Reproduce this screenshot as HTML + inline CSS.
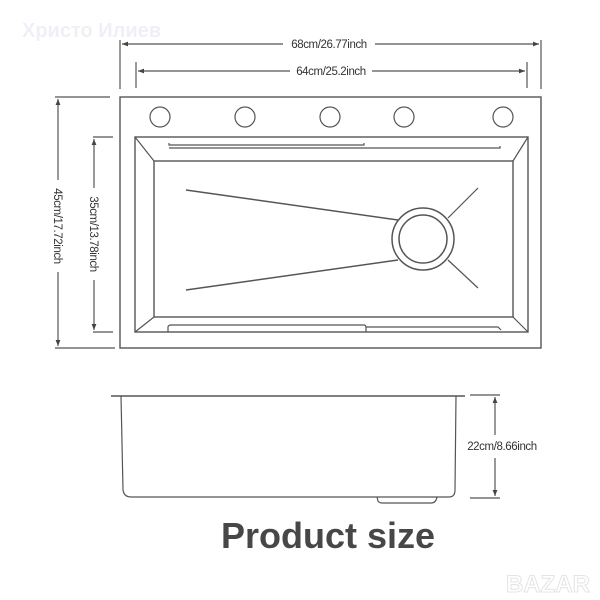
<!DOCTYPE html>
<html><head><meta charset="utf-8"><style>
body{margin:0;background:#fff;}
svg{display:block}
</style></head><body>
<svg width="600" height="600" viewBox="0 0 600 600" xmlns="http://www.w3.org/2000/svg" font-family="Liberation Sans, sans-serif">
<defs>
<marker id="a" viewBox="0 0 10 10" refX="10" refY="5" markerWidth="7" markerHeight="5" orient="auto-start-reverse"><path d="M0,1 L10,5 L0,9 z" fill="#444"/></marker>
</defs>
<text x="22" y="37" font-size="20" font-weight="bold" fill="#eef0f6">Христо Илиев</text>
<g stroke="#555" stroke-width="1.2" fill="none">
<!-- top dims -->
<line x1="120" y1="40" x2="120" y2="89"/>
<line x1="541" y1="40" x2="541" y2="89"/>
<line x1="122" y1="44" x2="283" y2="44" marker-start="url(#a)"/>
<line x1="375" y1="44" x2="539" y2="44" marker-end="url(#a)"/>
<line x1="136" y1="62" x2="136" y2="88"/>
<line x1="527" y1="62" x2="527" y2="88"/>
<line x1="138" y1="71" x2="290" y2="71" marker-start="url(#a)"/>
<line x1="372" y1="71" x2="525" y2="71" marker-end="url(#a)"/>
<!-- left dims -->
<line x1="55" y1="97" x2="110" y2="97"/>
<line x1="55" y1="348" x2="115" y2="348"/>
<line x1="58" y1="99" x2="58" y2="180" marker-start="url(#a)"/>
<line x1="58" y1="272" x2="58" y2="346" marker-end="url(#a)"/>
<line x1="93" y1="137" x2="113" y2="137"/>
<line x1="93" y1="332" x2="113" y2="332"/>
<line x1="94" y1="139" x2="94" y2="188" marker-start="url(#a)"/>
<line x1="94" y1="280" x2="94" y2="330" marker-end="url(#a)"/>
<!-- top view -->
<rect x="120" y="97" width="421" height="251" stroke-width="1.4"/>
<circle cx="160" cy="117" r="10"/>
<circle cx="245" cy="117" r="10"/>
<circle cx="330" cy="117" r="10"/>
<circle cx="404" cy="117" r="10"/>
<circle cx="503" cy="117" r="10"/>
<rect x="135" y="137" width="393" height="195" stroke-width="1.4"/>
<rect x="154" y="161" width="359" height="156" stroke-width="1.4"/>
<line x1="135" y1="137" x2="154" y2="161"/>
<line x1="528" y1="137" x2="513" y2="161"/>
<line x1="135" y1="332" x2="154" y2="317"/>
<line x1="528" y1="332" x2="513" y2="317"/>
<path d="M169,143 L169,145 L364,145 L364,143"/>
<path d="M169,148 L500,148 L500,146"/>
<path d="M168,332 L168,327 Q168,325 172,325 L364,325 Q366,325 366,328 L366,332"/>
<path d="M366,327 L498,327 L501,330"/>
<circle cx="423" cy="239" r="31" stroke-width="1.5"/>
<circle cx="423" cy="239" r="24" stroke-width="1.5"/>
<line x1="186" y1="190" x2="398" y2="220" stroke-width="1.5"/>
<line x1="186" y1="290" x2="398" y2="260" stroke-width="1.5"/>
<line x1="448" y1="218" x2="478" y2="188" stroke-width="1.2"/>
<line x1="448" y1="260" x2="478" y2="288" stroke-width="1.2"/>
<!-- side view -->
<line x1="111" y1="396" x2="465" y2="396" stroke-width="1.5"/>
<path d="M121,396 L123,490 Q124,497 131,497 L449,497 Q455,497 455,490 L456,396"/>
<path d="M377,497 L378,501 Q379,503 383,503 L431,503 Q436,503 437,497"/>
<line x1="470" y1="395" x2="500" y2="395"/>
<line x1="470" y1="498" x2="500" y2="498"/>
<line x1="495" y1="397" x2="495" y2="435" marker-start="url(#a)"/>
<line x1="495" y1="458" x2="495" y2="496" marker-end="url(#a)"/>
</g>
<g fill="#333" font-size="11.5" letter-spacing="-0.4">
<text x="329" y="48" text-anchor="middle">68cm/26.77inch</text>
<text x="331" y="75" text-anchor="middle">64cm/25.2inch</text>
<text x="502" y="450" text-anchor="middle">22cm/8.66inch</text>
<text transform="translate(54,226) rotate(90)" text-anchor="middle">45cm/17.72inch</text>
<text transform="translate(90,234) rotate(90)" text-anchor="middle">35cm/13.78inch</text>
</g>
<text x="328" y="548" text-anchor="middle" font-size="36" font-weight="bold" fill="#474747">Product size</text>
<text x="590" y="592" text-anchor="end" font-size="24" font-weight="bold" fill="#fff" stroke="#e4e4e4" stroke-width="1">BAZAR</text>
</svg>
</body></html>
